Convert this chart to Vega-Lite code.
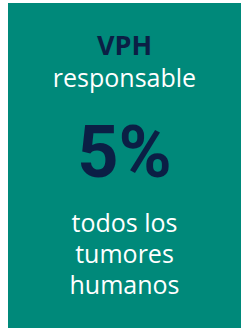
{
  "$schema": "https://vega.github.io/schema/vega-lite/v6.json",
  "width": 233,
  "height": 325,
  "autosize": {"type": "none"},
  "padding": {"left": 8, "top": 3, "right": 0, "bottom": 4},
  "background": "white",
  "config": {"view": {"fill": "#00897A", "stroke": null}},
  "data": {"values": [
    {"text": "VPH", "line": 1, "style": "head"},
    {"text": "responsable", "line": 2, "style": "body"},
    {"text": "5%", "line": 5, "style": "big"},
    {"text": "todos los", "line": 7, "style": "foot"},
    {"text": "tumores", "line": 8, "style": "foot"},
    {"text": "humanos", "line": 9, "style": "foot"}
  ]},
  "encoding": {
    "x": {"value": {"expr": "width/2"}},
    "y": {"field": "line", "type": "quantitative", "axis": null, "scale": {"domain": [0, 10], "range": [21, 331], "zero": false, "nice": false}},
    "text": {"field": "text"}
  },
  "layer": [
    {
      "transform": [{"filter": "datum.style == 'head'"}],
      "mark": {"type": "text", "font": "Open Sans", "fontSize": 27, "fontWeight": "bold", "color": "#0B1F45", "baseline": "alphabetic", "align": "center"}
    },
    {
      "transform": [{"filter": "datum.style == 'body'"}],
      "mark": {"type": "text", "font": "Open Sans", "fontSize": 25, "color": "white", "baseline": "alphabetic", "align": "center", "dy": 1}
    },
    {
      "transform": [{"filter": "datum.style == 'big'"}],
      "mark": {"type": "text", "font": "Roboto", "fontSize": 72, "fontWeight": "bold", "color": "#0B1F45", "baseline": "alphabetic", "align": "center", "dy": -2}
    },
    {
      "transform": [{"filter": "datum.style == 'foot'"}],
      "mark": {"type": "text", "font": "Open Sans", "fontSize": 25, "color": "white", "baseline": "alphabetic", "align": "center", "dy": -9}
    }
  ]
}
